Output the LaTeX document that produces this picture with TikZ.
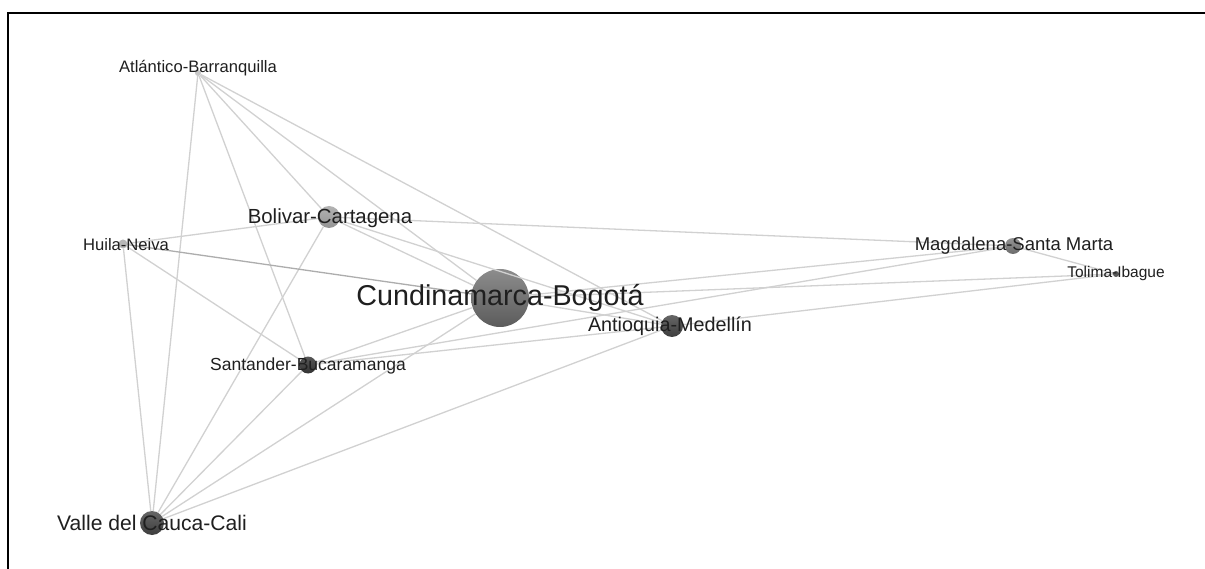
\documentclass[tikz,border=0pt]{standalone}
\usepackage{fontspec}
\setmainfont{Liberation Sans}
\begin{document}
\begin{tikzpicture}[x=1pt,y=-1pt,
  edge/.style={draw=black!18, line width=1.3pt},
  vtx/.style={circle, inner sep=0pt, draw=none},
  lbl/.style={inner sep=0pt, text=black!88, anchor=center}]
\useasboundingbox (0,0) rectangle (1205,569);
\fill[white] (0,0) rectangle (1205,569);
\draw[line width=2pt] (8,569) -- (8,13) -- (1205,13);
% vertices
\node[vtx, minimum size=6pt, fill=black!22] (atl) at (198,73) {};
\node[vtx, minimum size=22pt, top color=black!30, bottom color=black!42] (bol) at (329,217) {};
\node[vtx, minimum size=9pt, fill=black!28] (hui) at (123,244) {};
\node[vtx, minimum size=58pt, top color=black!45, bottom color=black!64] (cun) at (500,298) {};
\node[vtx, minimum size=22pt, top color=black!60, bottom color=black!76] (ant) at (672,326) {};
\node[vtx, minimum size=17pt, top color=black!66, bottom color=black!80] (san) at (308,365) {};
\node[vtx, minimum size=24pt, top color=black!60, bottom color=black!76] (val) at (152,523) {};
\node[vtx, minimum size=16pt, top color=black!42, bottom color=black!58] (mag) at (1013,246) {};
\node[vtx, minimum size=6pt, fill=black!65] (tol) at (1116,274) {};
% edges
\foreach \a/\b in {atl/val, atl/san, atl/bol, atl/cun, atl/ant,
  bol/hui, bol/mag, bol/val, bol/cun, bol/ant,
  hui/val, hui/san,
  val/san, val/cun, val/ant,
  san/cun, san/ant, san/mag,
  cun/ant, cun/mag, cun/tol,
  ant/tol, mag/tol}
  \draw[edge] (\a) -- (\b);
\draw[edge, draw=black!32] (hui) -- (cun);
% labels
\node[lbl, font=\fontsize{16.6}{18}\selectfont] (latl) at (198,68) {Atlántico-Barranquilla};
\node[lbl, font=\fontsize{20.4}{22}\selectfont] (lbol) at (330,218) {Bolivar-Cartagena};
\node[lbl, font=\fontsize{16.6}{18}\selectfont] (lhui) at (126,245) {Huila-Neiva};
\node[lbl, font=\fontsize{28.7}{30}\selectfont] (lcun) at (500,298) {Cundinamarca-Bogotá};
\node[lbl, font=\fontsize{19.8}{21}\selectfont] (lant) at (670,326) {Antioquia-Medellín};
\node[lbl, font=\fontsize{17.5}{19}\selectfont] (lsan) at (308,366) {Santander-Bucaramanga};
\node[lbl, font=\fontsize{21.1}{23}\selectfont] (lval) at (152,523) {Valle del Cauca-Cali};
\node[lbl, font=\fontsize{18.5}{20}\selectfont] (lmag) at (1014,246) {Magdalena-Santa Marta};
\node[lbl, font=\fontsize{15.5}{17}\selectfont] (ltol) at (1116,273) {Tolima-Ibague};
\end{tikzpicture}
\end{document}
